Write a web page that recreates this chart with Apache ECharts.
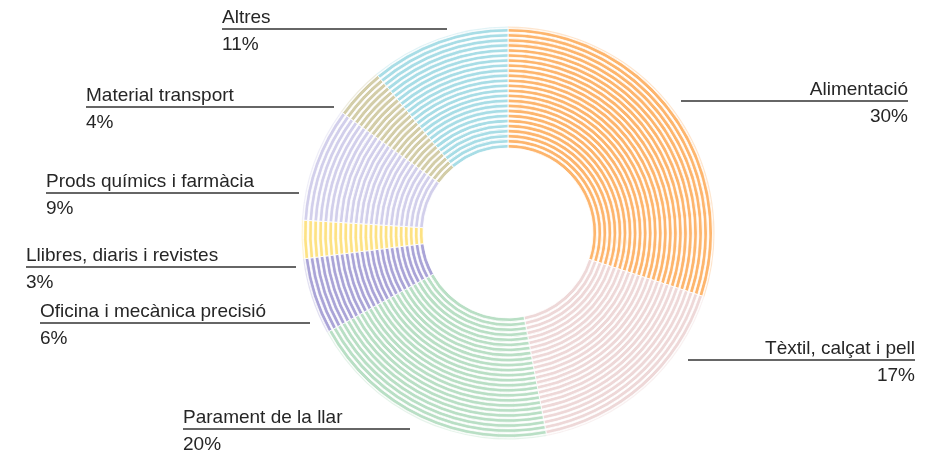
<!DOCTYPE html>
<html>
<head>
<meta charset="utf-8">
<script src="https://cdn.jsdelivr.net/npm/echarts@6/dist/echarts.min.js"></script>
<style>html,body{margin:0;padding:0;background:#fff}#c{width:952px;height:456px}</style>
</head>
<body>
<div id="c"></div>
<script>
// ---- data ----
var categories = ['Alimentació', 'Tèxtil, calçat i pell', 'Parament de la llar', 'Oficina i mecànica precisió', 'Llibres, diaris i revistes', 'Prods químics i farmàcia', 'Material transport', 'Altres'];
var shares = [30, 17, 20, 6, 3, 9, 4, 11];
var colors = ['#fdb56d', '#eed8d8', '#b9dfc5', '#aaa4d7', '#fde283', '#d2cfeb', '#d3cda8', '#a8dde6'];

// ---- label layout (annotation placement, px) ----
var labelAlign = ['right', 'right', 'left', 'left', 'left', 'left', 'left', 'left'];
var lineY  = [101, 360, 429, 323, 267, 193, 107, 29];
var lineX0 = [681, 688, 183, 40, 26, 46, 86, 222];
var lineX1 = [908, 915, 410, 310, 296, 299, 334, 447];

var chart = echarts.init(document.getElementById('c'), null, {renderer: 'canvas'});

var center = [508, 233];
var rInner = 85, ringStep = 5.04, ringWidth = 3.6, ringCount = 24;

var data = categories.map(function (c, i) {
  return {name: c, value: shares[i], itemStyle: {color: colors[i]}};
});

var series = [];
for (var k = 0; k < ringCount; k++) {
  var r0 = rInner + k * ringStep;
  series.push({
    type: 'pie',
    silent: true,
    center: center,
    radius: [r0, r0 + ringWidth],
    startAngle: 90,
    clockwise: true,
    avoidLabelOverlap: false,
    label: {show: false},
    labelLine: {show: false},
    itemStyle: {borderColor: '#ffffff', borderWidth: 0.8},
    data: data
  });
}
// faint outer rim
series.push({
  type: 'pie', silent: true, center: center,
  radius: [rInner + ringCount * ringStep - 0.6, rInner + ringCount * ringStep + 0.6],
  startAngle: 90, clockwise: true, avoidLabelOverlap: false,
  label: {show: false}, labelLine: {show: false},
  itemStyle: {borderColor: '#ffffff', borderWidth: 0.5, opacity: 0.4},
  data: data
});
// label carrier series
series.push({
  type: 'pie', silent: true, center: center,
  radius: [rInner, rInner + ringCount * ringStep],
  startAngle: 90, clockwise: true, avoidLabelOverlap: false,
  label: {
    show: true,
    position: 'outside',
    formatter: function (p) { return '{n|' + p.name + '}\n{p|' + p.value + '%}'; },
    rich: {
      n: {fontFamily: 'Liberation Sans', fontSize: 19, lineHeight: 23, color: '#262626'},
      p: {fontFamily: 'Liberation Sans', fontSize: 19, lineHeight: 32, color: '#262626'}
    }
  },
  labelLine: {show: true, lineStyle: {color: '#333333', width: 1.3}},
  labelLayout: function (params) {
    var i = params.dataIndex;
    var ly = lineY[i];
    var x = labelAlign[i] === 'left' ? lineX0[i] : lineX1[i];
    return {
      x: x,
      y: ly - 23,
      align: labelAlign[i],
      verticalAlign: 'top',
      labelLinePoints: [[lineX0[i], ly], [lineX0[i], ly], [lineX1[i], ly]]
    };
  },
  data: data.map(function (d) { return {name: d.name, value: d.value, itemStyle: {color: 'rgba(255,255,255,0)'}}; })
});

chart.setOption({
  animation: false,
  backgroundColor: '#ffffff',
  series: series
});
</script>
</body>
</html>
